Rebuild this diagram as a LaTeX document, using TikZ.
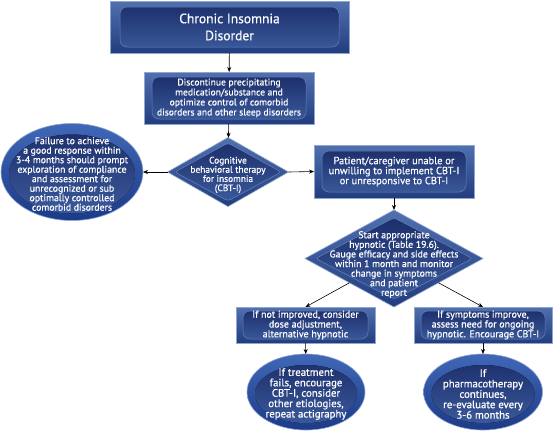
\documentclass[tikz,border=0pt]{standalone}
\usepackage{fontspec}
\setmainfont{PT Sans}[FakeBold=0.6]
\usetikzlibrary{shapes.geometric,arrows.meta,calc}
\definecolor{oTop}{HTML}{5070AE}
\definecolor{oBot}{HTML}{223D7E}
\definecolor{iTop}{HTML}{1A2B68}
\definecolor{iBot}{HTML}{3D5D9E}
\definecolor{rim}{HTML}{8EA6D0}
\definecolor{irim}{HTML}{6482BC}
\definecolor{eTop}{HTML}{4068B6}
\definecolor{eBot}{HTML}{1C3A88}
\newcommand{\myfs}[2]{\fontsize{#1}{#2}\selectfont\lineskiplimit=-20pt\relax}
\begin{document}
\begin{tikzpicture}[x=1pt,y=-1pt,
  every node/.style={text=white, align=center, inner sep=0pt, outer sep=0pt},
  rbox/.style n args={4}{rectangle, minimum width=#1, minimum height=#2,
    draw=rim, line width=0.6pt, top color=oTop, bottom color=oBot,
    path picture={\draw[rounded corners=7pt, draw=irim, line width=0.5pt, top color=iTop, bottom color=iBot]
      ([xshift=#3,yshift=-#4]path picture bounding box.north west) rectangle
      ([xshift=-#3,yshift=#4]path picture bounding box.south east);}},
  dia/.style 2 args={diamond, minimum width=#1, minimum height=#2,
    draw=rim, line width=0.6pt, top color=oTop, bottom color=oBot,
    path picture={\draw[rounded corners=3pt, draw=irim, line width=0.5pt, top color=iTop, bottom color=iBot]
      ($(path picture bounding box.center)!0.84!(path picture bounding box.north)$) --
      ($(path picture bounding box.center)!0.88!(path picture bounding box.east)$) --
      ($(path picture bounding box.center)!0.84!(path picture bounding box.south)$) --
      ($(path picture bounding box.center)!0.88!(path picture bounding box.west)$) -- cycle;}},
  ell/.style 2 args={ellipse, minimum width=#1, minimum height=#2,
    draw=rim, line width=0.6pt, top color=eTop, bottom color=eBot,
    path picture={\fill[top color=iTop, bottom color=iBot]
      ([yshift=-2pt]path picture bounding box.center) ellipse [x radius=#1/2-8pt, y radius=#2/2-9pt];}},
  conn/.style={draw=black, line width=0.6pt, -{Stealth[length=5pt,width=4pt]}},
  big/.style={font=\myfs{13.5}{17}},
  t2/.style={font=\myfs{9.6}{10}},
  t3/.style={font=\myfs{10.4}{10}},
  t4/.style={font=\myfs{10}{9.8}},
  td1/.style={font=\myfs{9.4}{9.2}},
  td2/.style={font=\myfs{9.8}{9.6}},
  te1/.style={font=\myfs{9.8}{9.5}},
  te2/.style={font=\myfs{10.8}{10.4}}
]
\useasboundingbox (0,0) rectangle (553,432);
\fill[white] (0,0) rectangle (553,432);

\node[rbox={239pt}{52pt}{10pt}{6pt}, big] (b1) at (229.5,27) {Chronic Insomnia\\Disorder};
\node[rbox={170pt}{52pt}{8pt}{5pt}, t2] (b2) at (229,98) {Discontinue precipitating\\medication/substance and\\optimize control of comorbid\\disorders and other sleep disorders};
\node[dia={121pt}{69pt}, label={[td1, yshift=-3pt]center:{Cognitive\\behavioral therapy\\for insomnia\\(CBT-I)}}] (d1) at (228,172) {};
\node[ell={142pt}{97pt}, label={[te1, yshift=-2pt]center:{Failure to achieve\\a good response within\\3-4 months should prompt\\exploration of compliance\\and assessment for\\unrecognized or sub\\optimally controlled\\comorbid disorders}}] (e1) at (72,172) {};
\node[rbox={160pt}{53pt}{8pt}{6pt}, t3] (b3) at (394,171.5) {Patient/caregiver unable or\\unwilling to implement CBT-I\\or unresponsive to CBT-I};
\node[dia={178pt}{97pt}, label={[td2, yshift=-6pt]center:{Start appropriate\\hypnotic (Table 19.6).\\Gauge efficacy and side effects\\within 1 month and monitor\\change in symptoms\\and patient\\report}}] (d2) at (394,258.5) {};
\node[rbox={139pt}{36pt}{7pt}{4pt}, t4] (b4) at (305.5,325) {If not improved, consider\\dose adjustment,\\alternative hypnotic};
\node[rbox={138pt}{36pt}{7pt}{4pt}, t4] (b5) at (483,325) {If symptoms improve,\\assess need for ongoing\\hypnotic. Encourage CBT-I};
\node[ell={118pt}{76pt}, label={[te2, yshift=-2pt]center:{If treatment\\fails, encourage\\CBT-I, consider\\other etiologies,\\repeat actigraphy}}] (e2) at (306,392) {};
\node[ell={119pt}{76pt}, label={[te2, yshift=-2pt]center:{If\\pharmacotherapy\\continues,\\re-evaluate every\\3-6 months}}] (e3) at (483,392) {};

\draw[conn] (b1) -- (b2);
\draw[conn] (b2) -- (d1);
\draw[conn] (d1.west) -- (e1.east);
\draw[conn] (d1.east) -- (b3.west);
\draw[conn] (b3) -- (d2);
\draw[conn] (d2.south west) -- (b4.north);
\draw[conn] (d2.south east) -- (b5.north);
\draw[conn] (b4) -- (e2);
\draw[conn] (b5) -- (e3);
\end{tikzpicture}
\end{document}
